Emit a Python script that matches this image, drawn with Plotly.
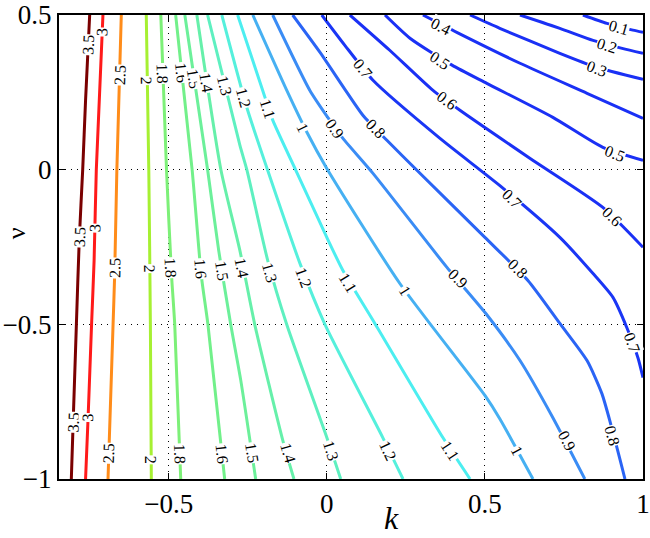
import plotly.graph_objects as go

# ---- contour lines (k, nu) ----
k_3_5 = [-0.750, -0.763, -0.772, -0.783, -0.792, -0.801, -0.808]
nu_3_5 = [0.5, 0.224, 0.001, -0.229, -0.5, -0.779, -1.0]

k_3_0 = [-0.708, -0.729, -0.736, -0.744, -0.755, -0.763]
nu_3_0 = [0.5, 0.0, -0.294, -0.5, -0.802, -1.0]

k_2_5 = [-0.650, -0.664, -0.671, -0.676, -0.692]
nu_2_5 = [0.5, 0.0, -0.342, -0.5, -1.0]

k_2_0 = [-0.571, -0.563, -0.558, -0.555]
nu_2_0 = [0.5, 0.0, -0.5, -1.0]

k_1_8 = [-0.525, -0.507, -0.491, -0.481, -0.462]
nu_1_8 = [0.5, 0.0, -0.342, -0.5, -1.0]

k_1_6 = [-0.478, -0.426, -0.397, -0.376, -0.323]
nu_1_6 = [0.5, 0.0, -0.342, -0.5, -1.0]

k_1_5 = [-0.449, -0.377, -0.342, -0.304, -0.272, -0.225]
nu_1_5 = [0.5, 0.0, -0.261, -0.5, -0.682, -1.0]

k_1_4 = [-0.411, -0.335, -0.275, -0.228, -0.139, -0.104]
nu_1_4 = [0.5, 0.0, -0.261, -0.5, -0.876, -1.0]

k_1_3 = [-0.377, -0.275, -0.253, -0.187, -0.127, 0.0, 0.044]
nu_1_3 = [0.5, 0.079, 0.0, -0.293, -0.5, -0.866, -1.0]

k_1_2 = [-0.332, -0.253, -0.187, -0.085, -0.006, 0.177, 0.241]
nu_1_2 = [0.5, 0.201, -0.002, -0.303, -0.5, -0.866, -1.0]

k_1_1 = [-0.282, -0.203, -0.171, -0.098, 0.0, 0.051, 0.152, 0.367, 0.453]
nu_1_1 = [0.5, 0.257, 0.160, -0.002, -0.219, -0.326, -0.497, -0.866, -1.0]

k_1_0 = [-0.234, -0.127, -0.063, 0.0, 0.231, 0.5, 0.547, 0.652]
nu_1_0 = [0.5, 0.257, 0.121, 0.004, -0.368, -0.730, -0.805, -1.0]

k_0_9 = [-0.171, -0.054, 0.003, 0.051, 0.146, 0.380, 0.503, 0.611, 0.715, 0.816]
nu_0_9 = [0.5, 0.257, 0.169, 0.101, -0.012, -0.316, -0.465, -0.617, -0.802, -1.0]

k_0_8 = [-0.108, -0.022, 0.055, 0.114, 0.190, 0.285, 0.5, 0.636, 0.737, 0.823, 0.870, 0.900, 0.943]
nu_0_8 = [0.5, 0.380, 0.263, 0.176, 0.095, -0.002, -0.219, -0.358, -0.497, -0.617, -0.724, -0.830, -1.0]

k_0_7 = [-0.016, 0.057, 0.146, 0.358, 0.554, 0.737, 0.842, 0.905, 0.949, 0.984, 1.0]
nu_0_7 = [0.5, 0.402, 0.289, 0.101, -0.057, -0.219, -0.336, -0.413, -0.511, -0.608, -0.672]

k_0_6 = [0.073, 0.199, 0.335, 0.421, 0.642, 0.873, 1.0]
nu_0_6 = [0.5, 0.386, 0.257, 0.192, 0.037, -0.122, -0.251]

k_0_5 = [0.184, 0.263, 0.396, 0.506, 0.715, 0.873, 1.0]
nu_0_5 = [0.5, 0.425, 0.338, 0.279, 0.169, 0.072, 0.030]

k_0_4 = [0.304, 0.411, 0.611, 0.823, 1.0]
nu_0_4 = [0.5, 0.444, 0.344, 0.247, 0.166]

k_0_3 = [0.453, 0.547, 0.737, 0.850, 1.0]
nu_0_3 = [0.5, 0.457, 0.376, 0.332, 0.292]

k_0_2 = [0.611, 0.737, 0.842, 0.934, 1.0]
nu_0_2 = [0.5, 0.457, 0.418, 0.392, 0.376]

k_0_1 = [0.810, 0.886, 0.968, 1.0]
nu_0_1 = [0.5, 0.473, 0.451, 0.444]

levels = [3.5, 3.0, 2.5, 2.0, 1.8, 1.6, 1.5, 1.4, 1.3, 1.2, 1.1, 1.0,
          0.9, 0.8, 0.7, 0.6, 0.5, 0.4, 0.3, 0.2, 0.1]
line_k = [k_3_5, k_3_0, k_2_5, k_2_0, k_1_8, k_1_6, k_1_5, k_1_4, k_1_3, k_1_2,
          k_1_1, k_1_0, k_0_9, k_0_8, k_0_7, k_0_6, k_0_5, k_0_4, k_0_3, k_0_2, k_0_1]
line_nu = [nu_3_5, nu_3_0, nu_2_5, nu_2_0, nu_1_8, nu_1_6, nu_1_5, nu_1_4, nu_1_3, nu_1_2,
           nu_1_1, nu_1_0, nu_0_9, nu_0_8, nu_0_7, nu_0_6, nu_0_5, nu_0_4, nu_0_3, nu_0_2, nu_0_1]

# ---- inline contour labels ----
label_text = ["3.5", "3", "2.5", "2", "1.8", "1.6", "1.5", "1.4", "1.3", "1.2", "1.1", "1",
              "0.9", "0.8", "0.7", "0.6", "0.5", "0.4", "0.3", "0.2", "0.1",
              "0.5", "0.6", "0.7", "0.7", "0.8", "0.8", "0.9", "0.9", "1", "1",
              "1.1", "1.1", "1.2", "1.2", "1.3", "1.3", "1.4", "1.4", "1.5", "1.5",
              "1.6", "1.6", "1.8", "1.8", "2", "2", "2.5", "2.5", "3.5", "3", "3.5", "3"]
label_k = [-0.756, -0.712, -0.655, -0.570, -0.519, -0.459, -0.421, -0.380, -0.323, -0.263, -0.187, -0.076,
           0.025, 0.155, 0.114, 0.380, 0.358, 0.361, 0.854, 0.886, 0.924,
           0.911, 0.902, 0.585, 0.965, 0.604, 0.902, 0.415, 0.759, 0.247, 0.601,
           0.066, 0.389, -0.073, 0.193, -0.180, 0.013, -0.269, -0.123, -0.332, -0.237,
           -0.399, -0.332, -0.494, -0.465, -0.560, -0.557, -0.671, -0.690, -0.782, -0.734, -0.801, -0.756]
label_nu = [0.403, 0.444, 0.305, 0.289, 0.312, 0.315, 0.295, 0.283, 0.273, 0.234, 0.198, 0.137,
            0.134, 0.134, 0.328, 0.224, 0.354, 0.464, 0.328, 0.402, 0.460,
            0.053, -0.152, -0.093, -0.559, -0.319, -0.860, -0.352, -0.876, -0.391, -0.908,
            -0.365, -0.908, -0.348, -0.908, -0.332, -0.908, -0.316, -0.915, -0.326, -0.915,
            -0.319, -0.918, -0.316, -0.918, -0.319, -0.937, -0.319, -0.918, -0.219, -0.190, -0.818, -0.802]
label_angle = [-87, -88, -88, 89, 88, 84, 81, 81, 76, 75, 72, 64,
               56, 46, 51, 37, 33, 27, 20, 18, 16,
               21, 44, 45, 70, 44, 75, 45, 63, 58, 62,
               59, 57, 70, 65, 74, 72, 79, 74, 81, 81,
               85, 84, 87, 88, 89, 90, -89, -88, -87, -88, -88, -88]

line_colors = {3.5: "#7a0000", 3.0: "#ff1a1a", 2.5: "#ff8c1a", 2.0: "#a6f032",
               1.8: "#7df078", 1.6: "#72f08a", 1.5: "#6cf09a", 1.4: "#66f0aa",
               1.3: "#5ef0c0", 1.2: "#55f0dc", 1.1: "#4ceef0", 1.0: "#46b0f2",
               0.9: "#3a8cf5", 0.8: "#2a64f5", 0.7: "#1a36f5", 0.6: "#1a30f5",
               0.5: "#1a30f5", 0.4: "#1a30f5", 0.3: "#1a30f5", 0.2: "#1a30f5", 0.1: "#1a30f5"}

SERIF = "Liberation Serif"

fig = go.Figure()
for lev, xs, ys in zip(levels, line_k, line_nu):
    fig.add_trace(go.Scatter(x=xs, y=ys, mode="lines", name=str(lev),
                             line=dict(color=line_colors[lev], width=3, shape="spline", smoothing=0.6),
                             hoverinfo="skip", showlegend=False))

for t, lx, ly, ang in zip(label_text, label_k, label_nu, label_angle):
    fig.add_annotation(x=lx, y=ly, xref="x", yref="y", text=t, showarrow=False,
                       textangle=ang, bgcolor="white", borderpad=0,
                       font=dict(family=SERIF, size=16, color="black"))

fig.add_annotation(x=0.206, y=-0.083, xref="x", yref="paper", text="<i>k</i>", showarrow=False,
                   yanchor="middle", font=dict(family=SERIF, size=32, color="black"))
fig.add_annotation(x=-0.1005, y=-0.206, xref="paper", yref="y", text="ν", showarrow=False,
                   xanchor="left", textangle=-90, font=dict(family=SERIF, size=26, color="black"))

axis_common = dict(showline=True, linecolor="black", linewidth=2, mirror="ticks",
                   ticks="inside", ticklen=6, tickcolor="black", tickwidth=1,
                   showgrid=True, gridcolor="black", gridwidth=1, griddash="1px,5px",
                   zeroline=False, automargin=False, ticklabeloverflow="allow",
                   tickfont=dict(family=SERIF, size=27, color="black"))

fig.update_xaxes(range=[-0.847, 1.0], tickvals=[-0.5, 0, 0.5, 1],
                 ticktext=["\u22120.5", "0", "0.5", "1"], **axis_common)
fig.update_yaxes(range=[-1.0, 0.5], tickvals=[-1, -0.5, 0, 0.5],
                 ticktext=["\u22121", "\u22120.5", "0", "0.5"], **axis_common)

fig.update_layout(template="none", width=650, height=538,
                  margin=dict(l=59, r=7, t=15, b=59, autoexpand=False),
                  plot_bgcolor="white", paper_bgcolor="white",
                  font=dict(family=SERIF))

fig.write_html("out.html", config={"displayModeBar": False},
               post_script="document.body.style.margin='0';")
